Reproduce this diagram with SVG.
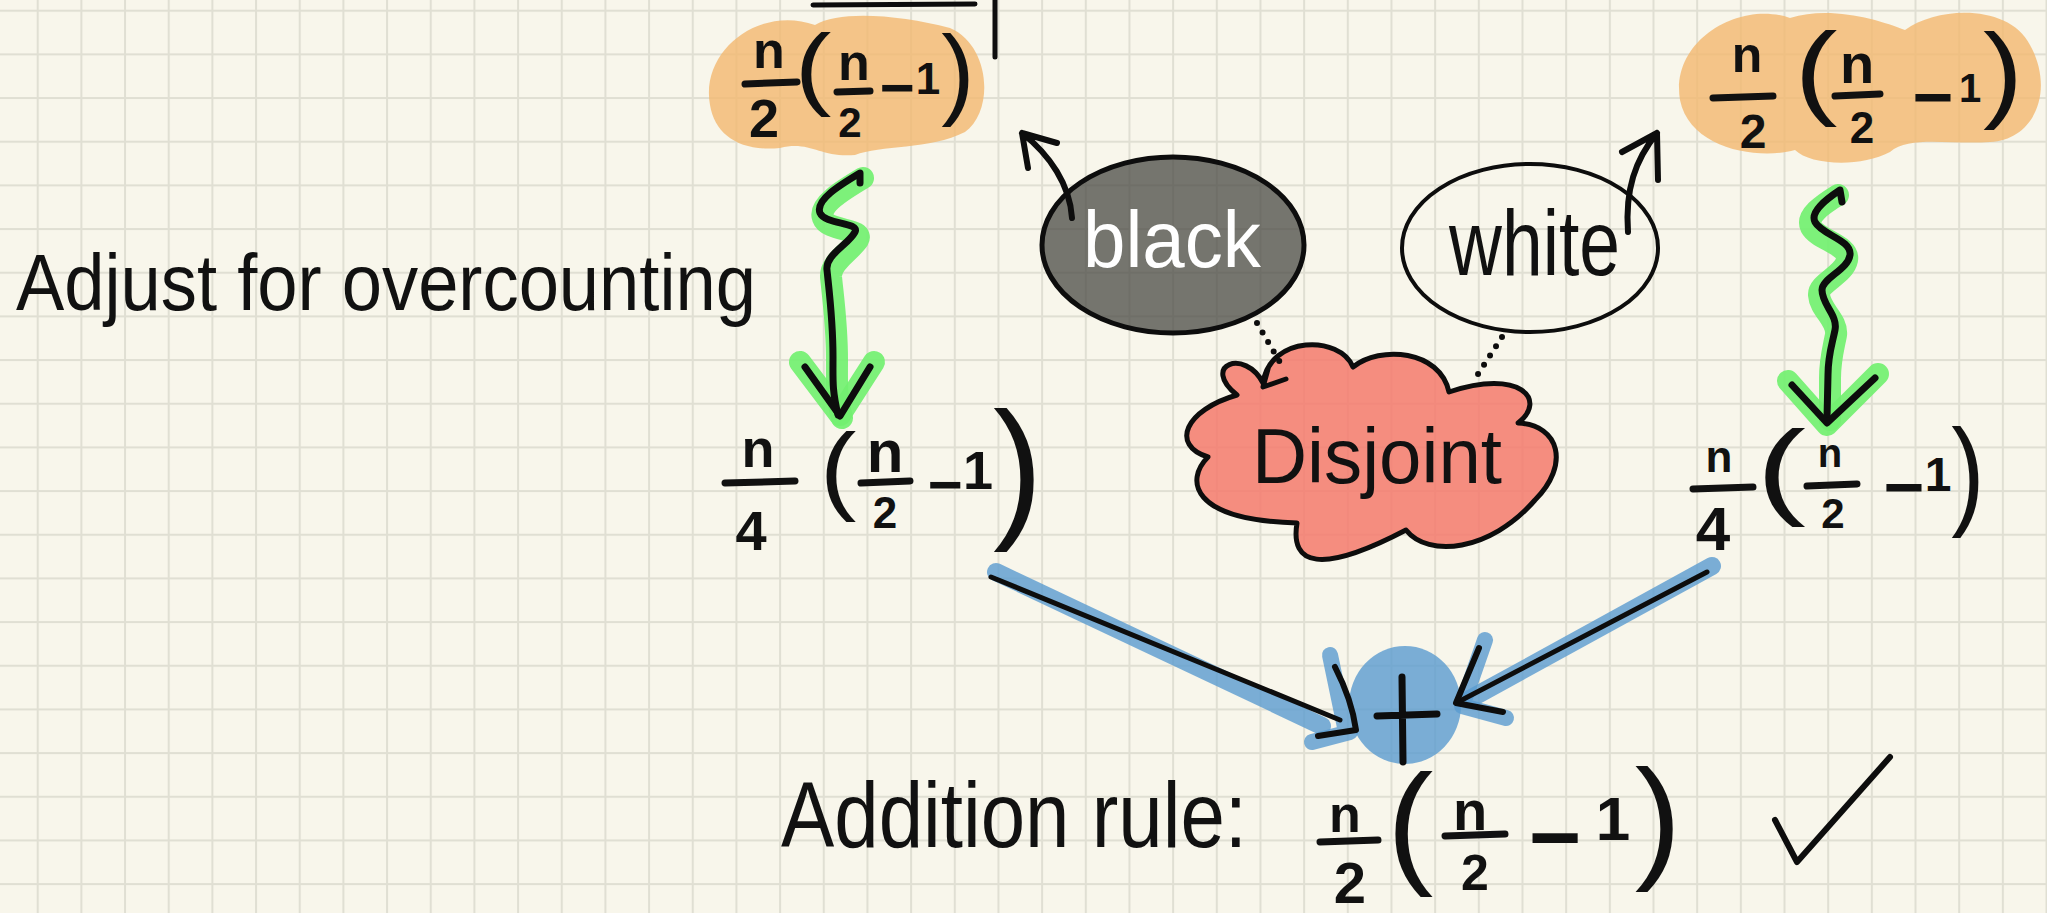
<svg xmlns="http://www.w3.org/2000/svg" width="2047" height="913" viewBox="0 0 2047 913">
<defs>
<pattern id="grid" patternUnits="userSpaceOnUse" x="36.7" y="9.7" width="43.67" height="43.67">
<rect width="43.67" height="43.67" fill="#f8f6eb"/>
<rect x="0" y="0" width="2" height="43.67" fill="#e0dfd3"/>
<rect x="0" y="0" width="43.67" height="2" fill="#e0dfd3"/>
</pattern>
<style>
.ink{fill:none;stroke:#0d0d0d;stroke-linecap:round;stroke-linejoin:round}
.grn{fill:none;stroke:#72f070;stroke-opacity:0.92;stroke-linecap:round;stroke-linejoin:round;stroke-width:22}
.blu{fill:none;stroke:#5a9bd0;stroke-opacity:0.8;stroke-linecap:round;stroke-linejoin:round}
.dot{fill:none;stroke:#0d0d0d;stroke-width:6;stroke-linecap:round;stroke-dasharray:0 11}
.t{font-family:"Liberation Sans",Arial,sans-serif;fill:#111}
.m{font-family:"Liberation Sans",Arial,sans-serif;font-weight:bold;fill:#111;text-anchor:middle}
.p{font-family:"Liberation Sans",Arial,sans-serif;font-size:100px;fill:#111;text-anchor:middle}
.bar{fill:none;stroke:#111;stroke-width:7;stroke-linecap:round}
.orange{fill:#f3b86f;fill-opacity:0.8}
</style>
</defs>
<rect width="2047" height="913" fill="url(#grid)"/>

<g id="top-edge">
<path class="ink" stroke-width="5" d="M813 5 L975 4 M995 0 L995 57"/>
</g>

<g id="expr-top-left">
<path class="orange" d="M710 105 C700 50 760 5 815 25 C840 10 900 15 950 28 C990 45 995 110 965 132 C930 150 880 145 855 155 C820 158 810 140 780 148 C740 152 715 135 710 105 Z"/>
<text class="m" x="769" y="68" font-size="52">n</text>
<path class="bar" d="M745 84 L797 82"/>
<text class="m" x="764" y="137" font-size="54">2</text>
<text class="p" transform="translate(813,117) scale(1.1,0.9)" y="-21">(</text>
<text class="m" x="854" y="80" font-size="52">n</text>
<path class="bar" d="M837 92 L870 91"/>
<text class="m" x="850" y="137" font-size="42">2</text>
<text class="m"><tspan x="897" y="108" font-size="60">−</tspan><tspan x="928" y="94" font-size="44">1</tspan></text>
<text class="p" transform="translate(958,127) scale(1.0,1.01)" y="-21">)</text>
</g>

<g id="expr-top-right">
<path class="orange" d="M1680 100 C1670 40 1740 0 1790 18 C1830 5 1880 20 1905 30 C1940 5 2010 5 2030 45 C2055 90 2035 140 1990 142 C1950 145 1910 135 1890 152 C1860 168 1810 165 1795 150 C1760 160 1690 150 1680 100 Z"/>
<text class="m" x="1747" y="72" font-size="50">n</text>
<path class="bar" d="M1713 98 L1773 96"/>
<text class="m" x="1753" y="148" font-size="48">2</text>
<text class="p" transform="translate(1816,127) scale(1.3,1.03)" y="-21">(</text>
<text class="m" x="1857" y="83" font-size="56">n</text>
<path class="bar" d="M1835 96 L1880 94"/>
<text class="m" x="1862" y="143" font-size="44">2</text>
<text class="m"><tspan x="1933" y="121" font-size="70">−</tspan><tspan x="1970" y="102" font-size="40">1</tspan></text>
<text class="p" transform="translate(2003,130) scale(1.2,1.06)" y="-21">)</text>
</g>

<g id="label-adjust">
<text class="t" x="16" y="310" font-size="80" textLength="740" lengthAdjust="spacingAndGlyphs">Adjust for overcounting</text>
</g>

<g id="node-black">
<ellipse cx="1173" cy="245" rx="131" ry="88" fill="#4a4a44" fill-opacity="0.75" stroke="#0d0d0d" stroke-width="5"/>
<text class="t" x="1083" y="267" font-size="80" style="fill:#ffffff" textLength="178" lengthAdjust="spacingAndGlyphs">black</text>
</g>

<g id="node-white">
<ellipse cx="1530" cy="248" rx="128" ry="84" fill="none" stroke="#0d0d0d" stroke-width="4"/>
<text class="t" x="1449" y="275" font-size="92" textLength="171" lengthAdjust="spacingAndGlyphs">white</text>
</g>

<g id="node-disjoint">
<path d="M1263 383 C1245 348 1200 365 1237 395 C1185 410 1170 445 1208 457 C1185 480 1190 520 1297 523 C1290 565 1320 575 1406 530 C1428 558 1490 552 1535 500 C1570 465 1560 425 1518 423 C1548 400 1520 368 1449 392 C1440 350 1380 345 1353 367 C1340 335 1270 335 1263 383 Z" fill="#f47a6c" fill-opacity="0.85" stroke="#0d0d0d" stroke-width="5" stroke-linejoin="round"/>
<text class="t" x="1252" y="483" font-size="78" textLength="250" lengthAdjust="spacingAndGlyphs">Disjoint</text>
</g>

<g id="expr-left">
<text class="m" x="758" y="467" font-size="54">n</text>
<path class="bar" d="M725 483 L795 481"/>
<text class="m" x="751" y="550" font-size="56">4</text>
<text class="p" transform="translate(838,523) scale(1.1,0.99)" y="-21">(</text>
<text class="m" x="885" y="472" font-size="60">n</text>
<path class="bar" d="M861 483 L910 481"/>
<text class="m" x="885" y="528" font-size="44">2</text>
<text class="m"><tspan x="945" y="505" font-size="60">−</tspan><tspan x="978" y="489" font-size="54">1</tspan></text>
<text class="p" transform="translate(1018,552) scale(1.5,1.54)" y="-21">)</text>
</g>

<g id="expr-right">
<text class="m" x="1719" y="472" font-size="44">n</text>
<path class="bar" d="M1693 489 L1753 487"/>
<text class="m" x="1713" y="550" font-size="62">4</text>
<text class="p" transform="translate(1781,527) scale(1.5,1.06)" y="-21">(</text>
<text class="m" x="1830" y="467" font-size="40">n</text>
<path class="bar" d="M1807 486 L1857 484"/>
<text class="m" x="1833" y="528" font-size="42">2</text>
<text class="m"><tspan x="1904" y="511" font-size="70">−</tspan><tspan x="1938" y="491" font-size="48">1</tspan></text>
<text class="p" transform="translate(1968,538) scale(1.0,1.2)" y="-21">)</text>
</g>

<g id="node-plus">
<ellipse cx="1405" cy="705" rx="56" ry="59" fill="#5a9bd0" fill-opacity="0.8"/>
<path class="ink" stroke-width="7" d="M1402 677 L1403 762 M1377 716 L1437 714"/>
</g>

<g id="label-addition">
<text class="t" x="781" y="847" font-size="92" textLength="466" lengthAdjust="spacingAndGlyphs">Addition rule:</text>
<text class="m" x="1345" y="832" font-size="52">n</text>
<path class="bar" d="M1320 842 L1378 840"/>
<text class="m" x="1350" y="903" font-size="58">2</text>
<text class="p" transform="translate(1410,897) scale(1.4,1.35)" y="-21">(</text>
<text class="m" x="1470" y="830" font-size="56">n</text>
<path class="bar" d="M1445 836 L1505 834"/>
<text class="m" x="1475" y="890" font-size="50">2</text>
<text class="m"><tspan x="1555" y="868" font-size="90">−</tspan><tspan x="1613" y="840" font-size="62">1</tspan></text>
<text class="p" transform="translate(1658,893) scale(1.4,1.36)" y="-21">)</text>
<path class="ink" stroke-width="6" d="M1775 820 L1797 862 L1890 757"/>
</g>

<g id="connectors">
<path class="grn" d="M863 178 C843 190 818 205 823 218 C828 232 865 228 858 240 C850 252 830 262 831 277 C833 297 837 325 837 360 C837 385 836 395 842 418"/>
<path class="grn" d="M800 362 L840 415 L874 362"/>
<path class="ink" stroke-width="7" d="M860 183 L860 173 C840 185 815 200 820 213 C825 225 860 222 855 232 C848 245 825 255 827 270 C829 290 833 320 833 357 C833 380 832 390 838 415"/>
<path class="ink" stroke-width="7" d="M805 367 L840 416 L870 367"/>

<path class="grn" d="M1838 195 C1822 205 1806 216 1811 227 C1818 240 1850 245 1847 260 C1844 275 1818 283 1819 295 C1820 310 1838 320 1836 335 C1833 350 1830 360 1830 378 L1830 420"/>
<path class="grn" d="M1788 381 L1827 425 L1878 374"/>
<path class="ink" stroke-width="7" d="M1842 202 L1840 190 C1825 200 1810 212 1815 222 C1822 235 1852 240 1850 255 C1848 270 1822 278 1822 290 C1822 305 1838 315 1835 330 C1832 345 1828 355 1828 375 L1827 418"/>
<path class="ink" stroke-width="7" d="M1792 385 L1827 423 L1875 378"/>

<path class="ink" stroke-width="6" d="M1072 218 C1070 185 1050 155 1022 133 M1057 143 L1022 133 L1028 168"/>
<path class="ink" stroke-width="6" d="M1628 232 C1625 190 1635 160 1657 133 M1622 152 L1657 133 L1658 180"/>

<path class="dot" d="M1257 323 L1281 364"/>
<path class="ink" stroke-width="5" d="M1268 369 L1263 387 L1286 379"/>
<path class="dot" d="M1502 337 L1478 374"/>

<path class="blu" stroke-width="18" d="M996 572 L1322 726"/>
<path class="blu" stroke-width="16" d="M1330 655 L1346 732 M1312 742 L1350 732"/>
<path class="ink" stroke-width="5" d="M991 577 L1340 720"/>
<path class="ink" stroke-width="6" d="M1335 667 Q1352 700 1356 730 L1318 736"/>

<path class="blu" stroke-width="18" d="M1712 566 L1468 700"/>
<path class="blu" stroke-width="16" d="M1485 640 L1462 706 L1506 718"/>
<path class="ink" stroke-width="5" d="M1707 572 L1458 702"/>
<path class="ink" stroke-width="6" d="M1479 648 L1456 703 L1503 712"/>
</g>
</svg>
